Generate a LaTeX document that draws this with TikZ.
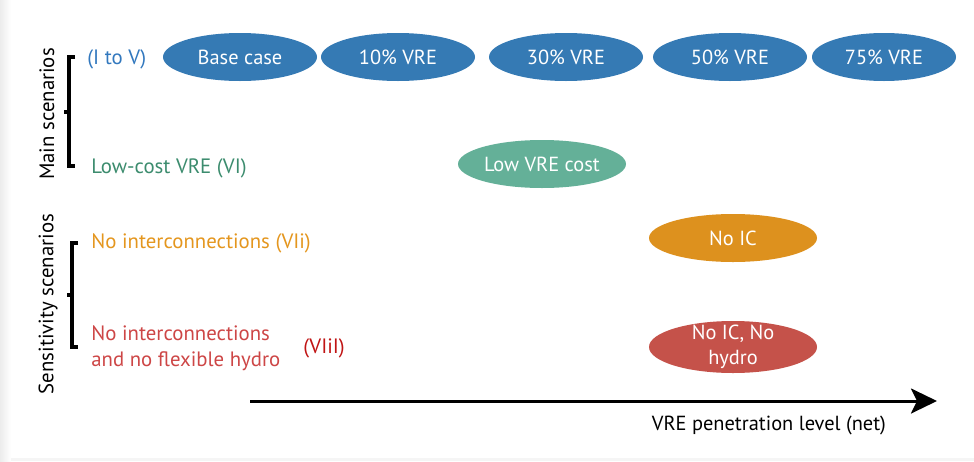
\documentclass[tikz,border=0pt]{standalone}
\usepackage{fontspec}
\setmainfont{PT Sans}
\usetikzlibrary{positioning}
\usetikzlibrary{shapes.geometric}
\usetikzlibrary{arrows.meta}

\definecolor{scblue}{RGB}{53,122,180}
\definecolor{scgreen}{RGB}{100,176,152}
\definecolor{scorange}{RGB}{221,145,30}
\definecolor{scred}{RGB}{197,82,74}
\definecolor{txblue}{RGB}{50,120,190}
\definecolor{txgreen}{RGB}{60,140,110}
\definecolor{txorange}{RGB}{228,150,30}
\definecolor{txred}{RGB}{205,70,70}
\definecolor{txdark}{RGB}{192,20,20}

\begin{document}
\begin{tikzpicture}[x=0.5pt,y=-0.5pt,
    scen/.style={ellipse,draw=none,fill=#1,text=white,inner sep=0pt,
      minimum width=77pt,minimum height=24pt,align=center,
      font=\fontsize{10.2}{12.5}\selectfont},
    lbl/.style={anchor=west,inner sep=0pt,text=#1,align=left,
      font=\fontsize{10.4}{13}\selectfont},
    brace/.style={line width=1.6pt}]
  \useasboundingbox (0,0) rectangle (974,461);
  % faint page edge
  \fill[left color=gray!15,right color=white] (0,0) rectangle (11,461);
  \fill[gray!8] (11,458) rectangle (974,461);

  % main scenarios
  \node[scen=scblue] (base) at (240,57) {Base case};
  \node[scen=scblue] (v10) at (398,57) {10\% VRE};
  \node[scen=scblue] (v30) at (566,57) {30\% VRE};
  \node[scen=scblue] (v50) at (730,57) {50\% VRE};
  \node[scen=scblue,minimum width=72pt] (v75) at (884,57) {75\% VRE};
  \node[scen=scgreen,minimum width=84pt] (lowc) at (542,164) {Low VRE cost};
  % sensitivity scenarios
  \node[scen=scorange,minimum width=84pt] (noic) at (733,238) {No IC};
  \node[scen=scred,minimum width=84pt,minimum height=26pt,inner sep=-4pt] (nohy) at (733,347) {No IC, No\\hydro};

  % row labels
  \node[lbl=txblue] (lab1) at (87,59) {(I to V)};
  \node[lbl=txgreen] (lab2) at (91,168) {Low-cost VRE (VI)};
  \node[lbl=txorange] (lab3) at (91,243) {No interconnections (VIi)};
  \node[lbl=txred] (lab4) at (91,348) {No interconnections\\and no flexible hydro};
  \node[lbl=txdark] (lab5) at (303,348) {(VIiI)};

  % groups
  \draw[brace] (75,57) -- (69,57) -- (69,166) -- (75,166);
  \draw[brace] (69,112) -- (64,112);
  \node[rotate=90,font=\fontsize{10.4}{12}\selectfont] (grp1) at (47,114) {Main scenarios};
  \draw[brace] (78,243) -- (72,243) -- (72,347) -- (78,347);
  \draw[brace] (72,295) -- (67,295);
  \node[rotate=90,font=\fontsize{10.4}{12}\selectfont] (grp2) at (48,304) {Sensitivity scenarios};

  % axis
  \coordinate (axL) at (250,401);
  \coordinate (axR) at (937,401);
  \draw[line width=1.5pt,-{Stealth[length=13pt,width=12.5pt,inset=3pt]}] (axL) -- (axR);
  \node[font=\fontsize{10.2}{12}\selectfont,below left=4pt and 22pt of axR] (axlab) {VRE penetration level (net)};
\end{tikzpicture}
\end{document}
